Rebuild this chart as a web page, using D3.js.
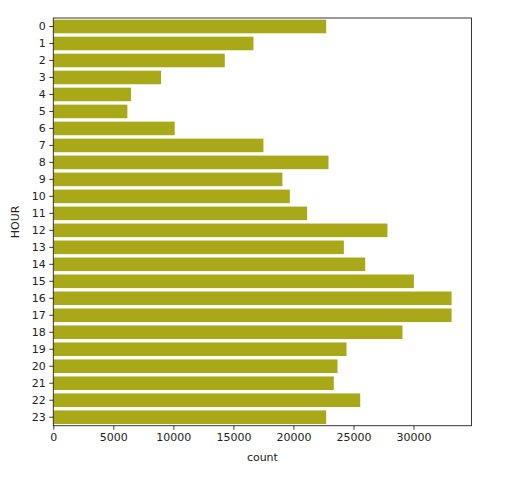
<!DOCTYPE html>
<html>
<head>
<meta charset="utf-8">
<script src="https://cdn.jsdelivr.net/npm/d3@7"></script>
<style>
  body { margin: 0; background: white; }
  text { font-family: "DejaVu Sans", sans-serif; }
</style>
</head>
<body>
<script>
const hours = d3.range(0, 24).map(String);
const counts = [22725, 16670, 14280, 8975, 6475, 6170, 10110, 17500,
                22920, 19080, 19700, 21140, 27830, 24200, 25975, 30030,
                33170, 33170, 29080, 24420, 23670, 23360, 25560, 22725];
const xTicks = [0, 5000, 10000, 15000, 20000, 25000, 30000];

const data = hours.map((h, i) => ({hour: h, count: counts[i]}));

const margin = {top: 18, left: 53.3, right: 39.5, bottom: 58.3};
const width = 511, height = 484;
const w = width - margin.left - margin.right;
const h = height - margin.top - margin.bottom;

const svg = d3.select("body")
              .append("svg")
              .attr("width", width)
              .attr("height", height);

const g = svg.append("g")
             .attr("transform", `translate(${margin.left},${margin.top})`);

const xscale = d3.scaleLinear()
                 .domain([0, d3.max(counts) * 1.05])
                 .range([0, w]);

const yscale = d3.scaleBand()
                 .domain(hours)
                 .range([0, h])
                 .paddingInner(0.2)
                 .paddingOuter(0.1);

g.selectAll("rect")
 .data(data)
 .enter()
 .append("rect")
 .attr("x", 0)
 .attr("y", d => yscale(d.hour))
 .attr("height", yscale.bandwidth())
 .attr("width", d => xscale(d.count))
 .attr("fill", "#a8a819");

// frame
g.append("rect")
 .attr("x", 0).attr("y", 0)
 .attr("width", w).attr("height", h)
 .attr("fill", "none")
 .attr("stroke", "#222")
 .attr("stroke-width", 0.9);

const xAxis = g.append("g")
               .attr("transform", `translate(0,${h})`)
               .call(d3.axisBottom(xscale).tickValues(xTicks).tickFormat(d3.format("d")).tickSize(4).tickPadding(3.5));

const yAxis = g.append("g")
               .call(d3.axisLeft(yscale).tickSize(4).tickPadding(3.5));

[xAxis, yAxis].forEach(a => {
  a.select(".domain").remove();
  a.selectAll("line").attr("stroke", "#222").attr("stroke-width", 0.9);
  a.selectAll("text").attr("font-size", "11px").attr("fill", "#222")
   .style("font-family", "'DejaVu Sans', sans-serif");
});

svg.append("text")
   .attr("x", margin.left + w / 2)
   .attr("y", 461)
   .attr("text-anchor", "middle")
   .attr("font-size", "11px")
   .attr("fill", "#222")
   .text("count");

svg.append("text")
   .attr("transform", `translate(19,${margin.top + h / 2}) rotate(-90)`)
   .attr("text-anchor", "middle")
   .attr("font-size", "11px")
   .attr("fill", "#222")
   .text("HOUR");
</script>
</body>
</html>
